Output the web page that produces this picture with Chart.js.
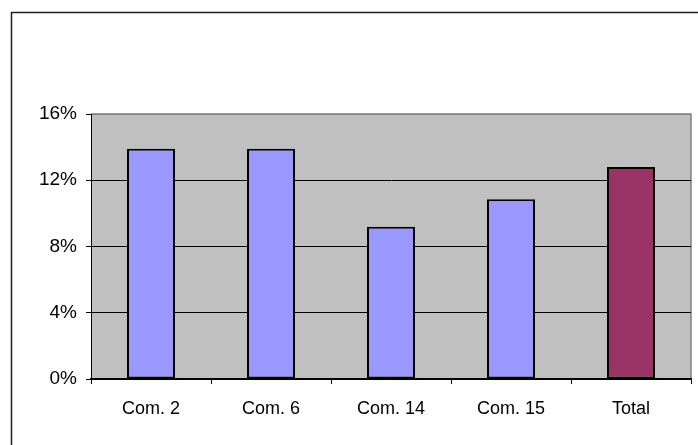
<!DOCTYPE html>
<html>
<head>
<meta charset="utf-8">
<script src="https://cdn.jsdelivr.net/npm/chart.js@4/dist/chart.umd.min.js"></script>
<style>
  html, body { margin: 0; padding: 0; background: #ffffff; }
  #wrap { width: 698px; height: 445px; position: relative; }
</style>
</head>
<body>
<div id="wrap"><canvas id="c" width="698" height="445"></canvas></div>
<script>
// Share of each commune, in percent
const categories = ['Com. 2', 'Com. 6', 'Com. 14', 'Com. 15', 'Total'];
const values = [13.9, 13.9, 9.2, 10.85, 12.8];
const barColors = ['#9999FF', '#9999FF', '#9999FF', '#9999FF', '#993366'];
const yTicks = [0, 4, 8, 12, 16];

const X_FONT = { family: '"Liberation Sans", Arial, sans-serif', size: 18 };
const Y_FONT = { family: '"Liberation Sans", Arial, sans-serif', size: 19 };

// Grey plot background, its border and the outer frame
const framePlugin = {
  id: 'frame',
  beforeDraw(chart) {
    const { ctx, chartArea: a } = chart;
    ctx.save();
    ctx.fillStyle = '#ffffff';
    ctx.fillRect(0, 0, chart.width, chart.height);
    ctx.strokeStyle = '#202020';
    ctx.lineWidth = 1.5;
    ctx.beginPath();
    ctx.moveTo(11.5, chart.height + 2);
    ctx.lineTo(11.5, 12.5);
    ctx.lineTo(chart.width + 2, 12.5);
    ctx.stroke();
    ctx.fillStyle = '#C0C0C0';
    ctx.fillRect(a.left, a.top, a.right - a.left, a.bottom - a.top);
    ctx.strokeStyle = '#808080';
    ctx.lineWidth = 1.5;
    ctx.beginPath();
    ctx.moveTo(a.left, a.top);
    ctx.lineTo(a.right, a.top);
    ctx.lineTo(a.right, a.bottom);
    ctx.stroke();
    ctx.restore();
  }
};

new Chart(document.getElementById('c'), {
  type: 'bar',
  data: {
    labels: categories,
    datasets: [{
      data: values,
      backgroundColor: barColors,
      borderColor: '#000000',
      borderWidth: 2,
      borderSkipped: false,
      barPercentage: 0.4,
      categoryPercentage: 1.0
    }]
  },
  options: {
    responsive: false,
    animation: false,
    devicePixelRatio: 1,
    layout: { padding: { left: 0, top: 114, right: 7, bottom: 0 } },
    plugins: { legend: { display: false }, tooltip: { enabled: false } },
    scales: {
      x: {
        afterFit(s) { s.height = 66; },
        grid: {
          offset: true,
          drawOnChartArea: false,
          tickLength: 5,
          color: '#000000',
          lineWidth: 1
        },
        border: { color: '#000000', width: 1.5 },
        ticks: { color: '#000000', font: X_FONT, padding: 14, maxRotation: 0 }
      },
      y: {
        min: 0,
        max: 16,
        afterFit(s) { s.width = 91; },
        afterBuildTicks(s) { s.ticks = yTicks.map(v => ({ value: v })); },
        grid: {
          tickLength: 5,
          color: (c) => (c.tick && c.tick.value === 16 ? '#808080' : '#000000'),
          tickColor: '#000000',
          lineWidth: 1
        },
        border: { color: '#000000', width: 1 },
        ticks: {
          color: '#000000',
          font: Y_FONT,
          padding: 9,
          callback: (v) => v + '%'
        }
      }
    }
  },
  plugins: [framePlugin]
});
</script>
</body>
</html>
